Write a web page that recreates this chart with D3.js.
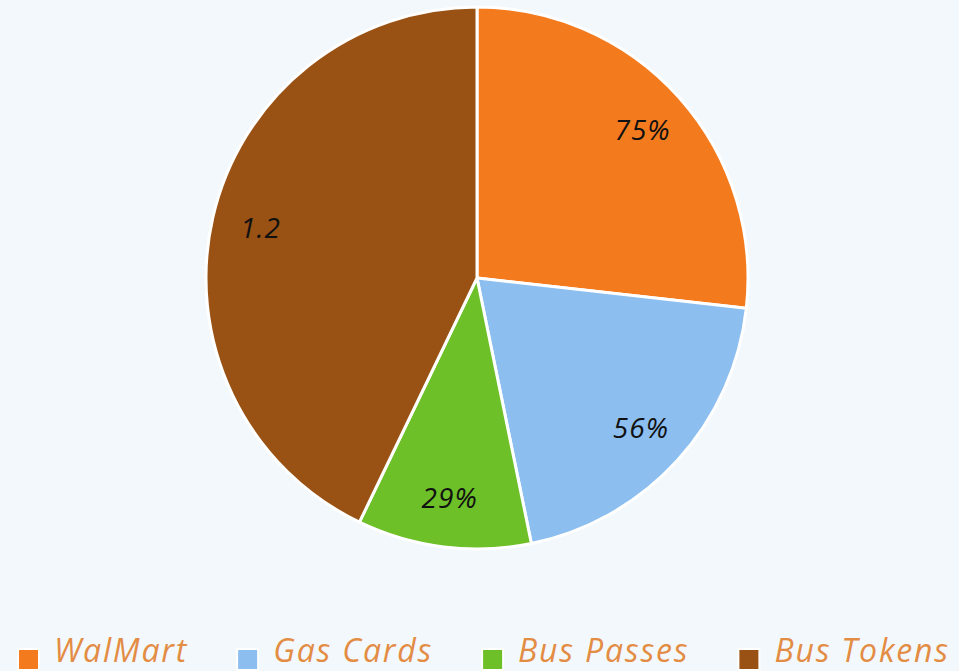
<!DOCTYPE html>
<html lang="en">
<head>
  <meta charset="utf-8">
  <title>Assistance Pie</title>
  <script type="text/javascript" src="https://cdn.jsdelivr.net/npm/d3@7"></script>
  <style>
    body { margin: 0; background: #f3f8fc; }
    svg { display: block; }
  </style>
</head>
<body>
  <script type="text/javascript">
    let categories = ["WalMart", "Gas Cards", "Bus Passes", "Bus Tokens"];
    let values = [0.75, 0.56, 0.29, 1.2];
    let labels = ["75%", "56%", "29%", "1.2"];
    let colors = ["#f47a1e", "#8cbef0", "#6dc028", "#9a5214"];

    let w = 959;
    let h = 671;
    let cx = 477, cy = 278;
    let outerRadius = 271;

    let svg = d3.select("body")
      .append("svg")
      .attr("width", w)
      .attr("height", h);

    svg.append("rect")
      .attr("width", w)
      .attr("height", h)
      .attr("fill", "#f3f8fc");

    let pie = d3.pie().sort(null);
    let color = d3.scaleOrdinal().domain(categories).range(colors);

    let arc = d3.arc().innerRadius(0).outerRadius(outerRadius);
    let labelArc = d3.arc().innerRadius(222).outerRadius(222);

    let arcs = svg.selectAll("g.arc")
      .data(pie(values))
      .enter()
      .append("g")
      .attr("class", "arc")
      .attr("transform", "translate(" + cx + "," + cy + ")");

    arcs.append("path")
      .attr("fill", function(d, i) { return color(categories[i]); })
      .attr("stroke", "#ffffff")
      .attr("stroke-width", 3)
      .attr("stroke-linejoin", "round")
      .attr("d", arc);

    arcs.append("text")
      .attr("transform", function(d) {
        return "translate(" + labelArc.centroid(d) + ")";
      })
      .attr("text-anchor", "middle")
      .attr("dy", "0.35em")
      .attr("font-family", "'Open Sans', sans-serif")
      .attr("font-style", "italic")
      .attr("font-size", 28)
      .attr("letter-spacing", 1)
      .attr("fill", "#111")
      .text(function(d, i) { return labels[i]; });

    // legend
    let legend = svg.append("g").attr("transform", "translate(18,658)");
    let x = 0;
    categories.forEach(function(c, i) {
      let g = legend.append("g").attr("transform", "translate(" + x + ",0)");
      g.append("rect")
        .attr("x", 0).attr("y", -9)
        .attr("width", 21).attr("height", 21)
        .attr("fill", color(c))
        .attr("stroke", "#ffffff")
        .attr("stroke-width", 2);
      let t = g.append("text")
        .attr("x", 36)
        .attr("y", 4)
        .attr("font-family", "'Open Sans', sans-serif")
        .attr("font-style", "italic")
        .attr("font-size", 32)
        .attr("letter-spacing", 1.8)
        .attr("fill", "#e38c44")
        .text(c);
      x += 36 + t.node().getComputedTextLength() + 49;
    });
  </script>
</body>
</html>
